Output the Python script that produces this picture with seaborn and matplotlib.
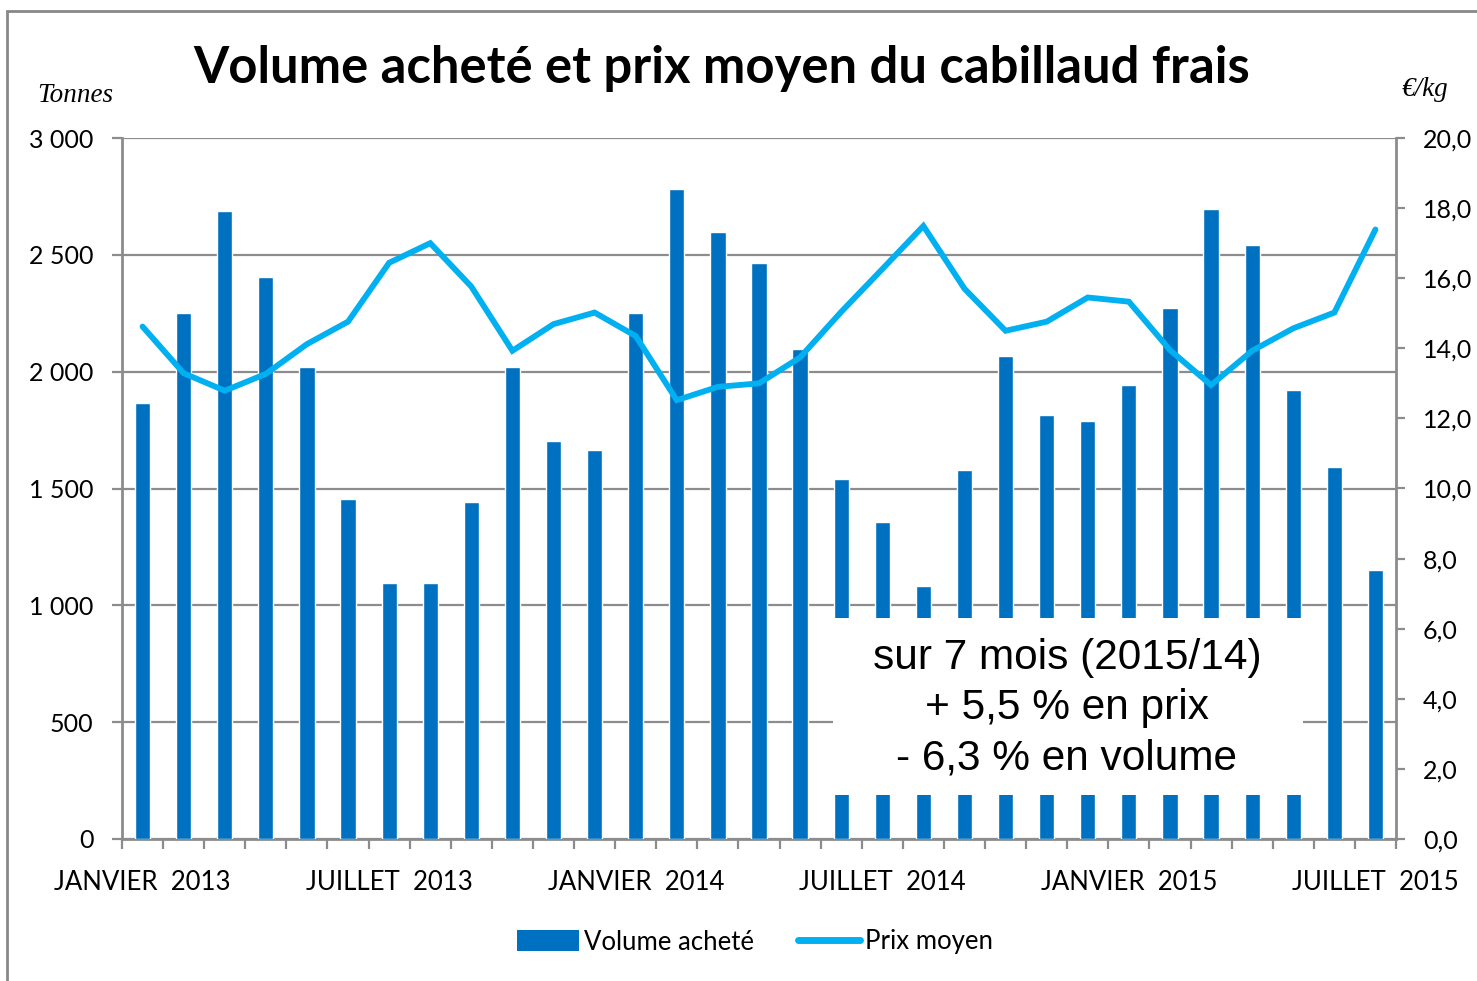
import matplotlib
matplotlib.use("Agg")
import matplotlib.pyplot as plt
from matplotlib.patches import Rectangle, Patch
from matplotlib.lines import Line2D
import seaborn as sns
import numpy as np
import pandas as pd

# ---------------- data ----------------
mois = ["2013-01", "2013-02", "2013-03", "2013-04", "2013-05", "2013-06",
        "2013-07", "2013-08", "2013-09", "2013-10", "2013-11", "2013-12",
        "2014-01", "2014-02", "2014-03", "2014-04", "2014-05", "2014-06",
        "2014-07", "2014-08", "2014-09", "2014-10", "2014-11", "2014-12",
        "2015-01", "2015-02", "2015-03", "2015-04", "2015-05", "2015-06",
        "2015-07"]
volume = [1867, 2253, 2688, 2407, 2020, 1453, 1094, 1094, 1443, 2020, 1703, 1664,
          2253, 2782, 2599, 2465, 2097, 1539, 1355, 1084, 1580, 2069, 1816, 1790,
          1943, 2271, 2696, 2541, 1923, 1592, 1153]
prix = [14.62, 13.29, 12.79, 13.27, 14.12, 14.76, 16.44, 17.00, 15.76, 13.93, 14.69, 15.02,
        14.35, 12.52, 12.90, 13.00, 13.74, 15.04, 16.26, 17.49, 15.70, 14.50, 14.76, 15.45,
        15.33, 13.95, 12.95, 13.93, 14.57, 15.02, 17.39]
xlabel_pos = [0, 6, 12, 18, 24, 30]
xlabels = ["JANVIER  2013", "JUILLET  2013", "JANVIER  2014",
           "JUILLET  2014", "JANVIER  2015", "JUILLET  2015"]
yticks_left = [0, 500, 1000, 1500, 2000, 2500, 3000]
ylabels_left = ["0", "500", "1 000", "1 500", "2 000", "2 500", "3 000"]
yticks_right = [0, 2, 4, 6, 8, 10, 12, 14, 16, 18, 20]
ylabels_right = ["0,0", "2,0", "4,0", "6,0", "8,0", "10,0", "12,0", "14,0",
                 "16,0", "18,0", "20,0"]
title = "Volume acheté et prix moyen du cabillaud frais"
note = "sur 7 mois (2015/14)\n+ 5,5 % en prix\n- 6,3 % en volume"

df = pd.DataFrame({"mois": mois, "volume": volume, "prix": prix})
df["idx"] = np.arange(len(df))

# ---------------- style ----------------
sns.set_style("white")
plt.rcParams["font.family"] = ["Lato", "DejaVu Sans"]
plt.rcParams["text.color"] = "black"
plt.rcParams["xtick.color"] = "black"
plt.rcParams["ytick.color"] = "black"
plt.rcParams["axes.labelcolor"] = "black"

W, H = 1477, 981
fig = plt.figure(figsize=(W / 100, H / 100), dpi=100)

def fx(px):
    return px / W

def fy(py):
    return 1 - py / H

BAR = "#0070C0"
LINE = "#00B0F0"
GRID = "#8c8c8c"
YTXT = 18
XTXT = 18.5

ax = fig.add_axes([fx(122), fy(839), fx(1396) - fx(122), fy(138) - fy(839)])
sns.barplot(data=df, x="mois", y="volume", color=BAR, width=0.37,
            saturation=1, ax=ax, zorder=3)
ax.set_ylim(0, 3000)
ax.set_xlim(-0.5, len(df) - 0.5)
ax.set_axisbelow(True)
ax.yaxis.grid(True, color=GRID, lw=1.6)
ax.xaxis.grid(False)
ax.set_xlabel("")
ax.set_ylabel("")

ax2 = ax.twinx()
sns.lineplot(data=df, x="idx", y="prix", color=LINE, lw=4.2, ax=ax2,
             solid_joinstyle="miter", solid_capstyle="round")
ax2.set_ylim(0, 20)
ax2.set_xlim(-0.5, len(df) - 0.5)
ax2.set_ylabel("")
ax2.set_xlabel("")

# ticks
ax.set_yticks(yticks_left)
ax.set_yticklabels(ylabels_left)
ax2.set_yticks(yticks_right)
ax2.set_yticklabels(ylabels_right)
ax.set_xticks(xlabel_pos)
ax.set_xticklabels(xlabels)
ax.set_xticks(np.arange(-0.5, len(df), 1.0), minor=True)
ax.tick_params(axis="x", which="major", length=0, pad=22, labelsize=XTXT,
               labelcolor="black")
ax.tick_params(axis="x", which="minor", length=7, width=1.6, color=GRID,
               direction="out", bottom=True)
ax.tick_params(axis="y", length=7.5, width=1.6, color=GRID, pad=13,
               labelsize=YTXT, left=True, labelcolor="black")
ax2.tick_params(axis="y", length=6.5, width=1.6, color=GRID, pad=13,
                labelsize=YTXT, right=True, labelcolor="black")

for a in (ax, ax2):
    a.spines["top"].set_visible(False)
    for s in ("left", "bottom", "right"):
        a.spines[s].set_color(GRID)
        a.spines[s].set_linewidth(2)
ax2.spines["left"].set_visible(False)
ax2.spines["bottom"].set_visible(False)
ax.spines["right"].set_visible(False)

# annotation box
box = Rectangle((fx(833), fy(795)), fx(1303) - fx(833), fy(618) - fy(795),
                transform=fig.transFigure, facecolor="white", edgecolor="none",
                zorder=20, clip_on=False)
ax2.add_patch(box)
ax2.text(fx(1067), fy(708), note, transform=fig.transFigure, ha="center",
         va="center", fontsize=30.5, family=["Liberation Sans", "DejaVu Sans"],
         linespacing=1.33, zorder=21, color="black")

# title and unit labels
fig.text(fx(722), fy(69), title, ha="center", va="center", fontsize=36.5,
         fontweight="bold", color="black")
fig.text(fx(75), fy(95), "Tonnes", ha="center", va="center", fontsize=19.5,
         style="italic", family=["Liberation Serif", "DejaVu Serif"])
fig.text(fx(1425), fy(90), "€/kg", ha="center", va="center", fontsize=19.5,
         style="italic", family=["Liberation Serif", "DejaVu Serif"])

# legend
handles = [Patch(facecolor=BAR, edgecolor="none", label="Volume acheté"),
           Line2D([0], [0], color=LINE, lw=5, solid_capstyle="round",
                  label="Prix moyen")]
fig.legend(handles=handles, loc="center", bbox_to_anchor=(fx(755), fy(942)),
           ncol=2, frameon=False, fontsize=XTXT, handlelength=2.4,
           handleheight=0.9, handletextpad=0.2, columnspacing=1.7)

# outer border
fig.patches.append(Rectangle((fx(7), fy(990)), fx(1490) - fx(7), fy(11) - fy(990),
                             transform=fig.transFigure, facecolor="none",
                             edgecolor="#888888", lw=2, zorder=0))

fig.savefig("out.png", dpi=100)
